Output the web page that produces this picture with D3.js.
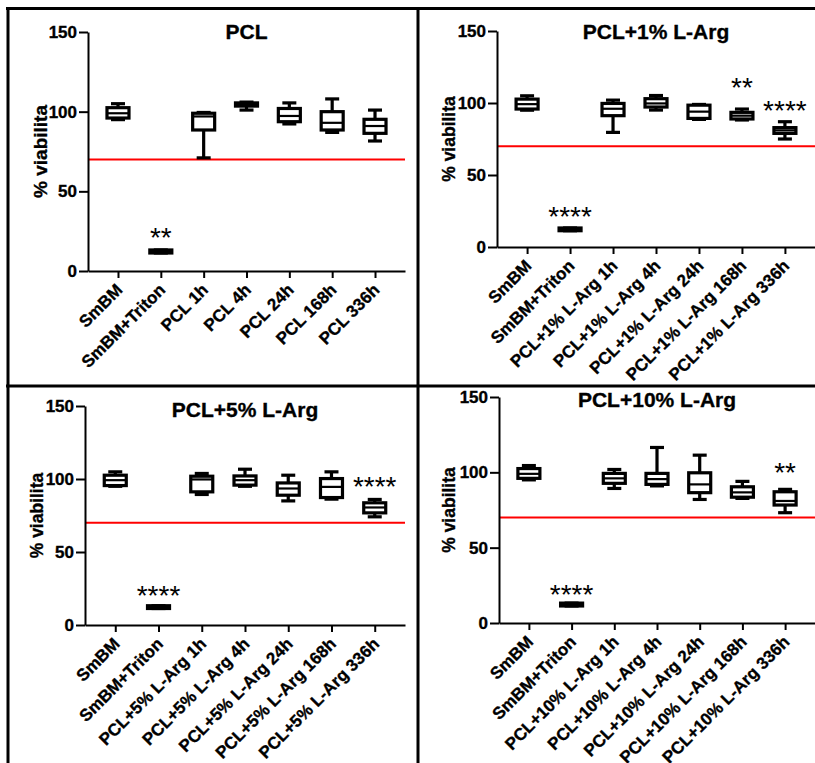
<!doctype html>
<html>
<head>
  <meta charset="utf8"/>
  <style>
    body { margin: 0; background: #fff; }
    text { font-family: Arial, 'Liberation Sans', Helvetica, sans-serif; }
    .bold { font-weight: bold; stroke: #000; stroke-width: 0.35px; }
  </style>
</head>
<body>
  <svg width="815" height="763"></svg>
  <script src="https://d3js.org/d3.v7.min.js"></script>
  <script>

    // ---- data (box stats: [min, q1, median, q3, max]) ----
    var titles = ['PCL', 'PCL+1% L-Arg', 'PCL+5% L-Arg', 'PCL+10% L-Arg'];
    var yTicks = [0, 50, 100, 150];
    var threshold = 70;

    var catsPCL = ['SmBM', 'SmBM+Triton', 'PCL 1h', 'PCL 4h', 'PCL 24h', 'PCL 168h', 'PCL 336h'];
    var cats1 = ['SmBM', 'SmBM+Triton', 'PCL+1% L-Arg 1h', 'PCL+1% L-Arg 4h', 'PCL+1% L-Arg 24h',
                 'PCL+1% L-Arg 168h', 'PCL+1% L-Arg 336h'];
    var cats5 = ['SmBM', 'SmBM+Triton', 'PCL+5% L-Arg 1h', 'PCL+5% L-Arg 4h', 'PCL+5% L-Arg 24h',
                 'PCL+5% L-Arg 168h', 'PCL+5% L-Arg 336h'];
    var cats10 = ['SmBM', 'SmBM+Triton', 'PCL+10% L-Arg 1h', 'PCL+10% L-Arg 4h', 'PCL+10% L-Arg 24h',
                  'PCL+10% L-Arg 168h', 'PCL+10% L-Arg 336h'];

    var boxPCL = [
      [95, 96, 99, 102.5, 105],
      [11.3, 11.3, 12.2, 13.2, 13.2],
      [71, 88.5, 97, 99, 99.5],
      [101, 103.5, 104.5, 105.5, 106],
      [92.3, 93.7, 97.3, 102, 105.5],
      [87, 88.5, 93, 100, 108],
      [81.6, 86.4, 91, 95.2, 101]
    ];
    var box1 = [
      [95, 95.8, 99.2, 102.7, 105],
      [11.3, 11.3, 12.2, 13.2, 13.2],
      [79.6, 91.2, 96, 99.7, 102],
      [95.1, 97.2, 99.7, 103, 105.2],
      [88.6, 89.3, 94, 98.5, 99],
      [88.2, 88.9, 91.2, 93.5, 95.8],
      [75, 78.9, 81, 82.9, 87]
    ];
    var box5 = [
      [95, 95.5, 99.2, 102.6, 104.9],
      [11.3, 11.3, 12.2, 13.2, 13.2],
      [89.4, 91.2, 99.7, 101.9, 103.8],
      [95, 95.8, 99.2, 102.1, 106.7],
      [85, 88.9, 93.5, 97.3, 102.6],
      [86.2, 87.3, 94.6, 100.3, 104.9],
      [74.1, 76.8, 80.5, 83.7, 86]
    ];
    var box10 = [
      [95, 96, 99, 102.5, 104.5],
      [11.3, 11.3, 12.2, 13.2, 13.2],
      [89.3, 92.7, 96, 99.3, 101.9],
      [91, 92, 95.5, 99.3, 116.5],
      [82, 86.5, 92, 99.7, 111.4],
      [82.7, 83.5, 86.7, 90.4, 94],
      [73.2, 78.3, 81, 87.1, 88.7]
    ];

    // significance marks: [category index, label, value at glyph centre]
    var sigPCL = [[1, '**', 25]];
    var sig1 = [[1, '****', 25.5], [5, '**', 115.5], [6, '****', 99]];
    var sig5 = [[1, '****', 25], [6, '****', 99.3]];
    var sig10 = [[1, '****', 23], [6, '**', 104]];

    // ---- layout ----
    var layout = [
      {x0: 88, x1: 405, yTop: 32, yBot: 271, titleY: 38.5, labX: 47, labSize: 19},
      {x0: 497, x1: 815, yTop: 31, yBot: 247, titleY: 39, labX: 455, labSize: 17.5},
      {x0: 85, x1: 405, yTop: 406, yBot: 625, titleY: 417, labX: 43, labSize: 17.5},
      {x0: 499, x1: 815, yTop: 397, yBot: 623, titleY: 407, labX: 455, labSize: 17.5}
    ];
    var panels = [
      {cats: catsPCL, boxes: boxPCL, sig: sigPCL},
      {cats: cats1, boxes: box1, sig: sig1},
      {cats: cats5, boxes: box5, sig: sig5},
      {cats: cats10, boxes: box10, sig: sig10}
    ];

    var svg = d3.select('svg');
    svg.append('rect').attr('width', 815).attr('height', 763).attr('fill', '#fff');

    panels.forEach(function(p, i) {
      var L = layout[i];
      var g = svg.append('g');

      var x = d3.scalePoint().domain(p.cats).range([L.x0, L.x1]).padding(0.7);
      var y = d3.scaleLinear().domain([0, 150]).range([L.yBot, L.yTop]);

      // threshold line
      g.append('line')
        .attr('x1', L.x0).attr('x2', L.x1)
        .attr('y1', y(threshold)).attr('y2', y(threshold))
        .attr('stroke', '#ff0000').attr('stroke-width', 2);

      // y axis
      var ya = g.append('g')
        .attr('transform', 'translate(' + L.x0 + ',0)')
        .call(d3.axisLeft(y).tickValues(yTicks).tickSize(9).tickSizeOuter(0).tickPadding(2));
      ya.selectAll('path, line').attr('stroke', '#000').attr('stroke-width', 2);
      ya.selectAll('text').attr('fill', '#000').attr('class', 'bold')
        .style('font-size', '17px')
        .style('font-family', "Arial, 'Liberation Sans', sans-serif");

      // x axis
      var xa = g.append('g')
        .attr('transform', 'translate(0,' + L.yBot + ')')
        .call(d3.axisBottom(x).tickSize(7).tickSizeOuter(0));
      xa.selectAll('path, line').attr('stroke', '#000').attr('stroke-width', 2);
      xa.selectAll('text')
        .attr('fill', '#000').attr('class', 'bold')
        .attr('y', 0).attr('dy', 0)
        .attr('text-anchor', 'end')
        .attr('transform', 'translate(5,20) rotate(-45)')
        .style('font-size', '17px')
        .style('font-family', "Arial, 'Liberation Sans', sans-serif");

      // boxes
      var bw = 22, cw = 14, sw = 3.2;
      var b = g.selectAll('.box').data(p.boxes).enter().append('g').attr('class', 'box')
        .attr('transform', function(d, j) { return 'translate(' + x(p.cats[j]) + ',0)'; });

      b.append('line')
        .attr('y1', function(d) { return y(d[4]); })
        .attr('y2', function(d) { return y(d[3]); })
        .attr('stroke', '#000').attr('stroke-width', sw);
      b.append('line')
        .attr('y1', function(d) { return y(d[1]); })
        .attr('y2', function(d) { return y(d[0]); })
        .attr('stroke', '#000').attr('stroke-width', sw);
      b.append('line')
        .attr('x1', -cw / 2).attr('x2', cw / 2)
        .attr('y1', function(d) { return y(d[4]); })
        .attr('y2', function(d) { return y(d[4]); })
        .attr('stroke', '#000').attr('stroke-width', sw);
      b.append('line')
        .attr('x1', -cw / 2).attr('x2', cw / 2)
        .attr('y1', function(d) { return y(d[0]); })
        .attr('y2', function(d) { return y(d[0]); })
        .attr('stroke', '#000').attr('stroke-width', sw);
      b.append('rect')
        .attr('x', -bw / 2).attr('width', bw)
        .attr('y', function(d) { return y(d[3]); })
        .attr('height', function(d) { return y(d[1]) - y(d[3]); })
        .attr('fill', '#fff').attr('stroke', '#000').attr('stroke-width', sw);
      b.append('line')
        .attr('x1', -bw / 2).attr('x2', bw / 2)
        .attr('y1', function(d) { return y(d[2]); })
        .attr('y2', function(d) { return y(d[2]); })
        .attr('stroke', '#000').attr('stroke-width', 2.2);

      // significance stars
      g.selectAll('.sig').data(p.sig).enter().append('text')
        .attr('x', function(d) { return x(p.cats[d[0]]); })
        .attr('y', function(d) { return y(d[2]) + 16; })
        .attr('text-anchor', 'middle')
        .style('font-size', '28px')
        .text(function(d) { return d[1]; });

      // title
      g.append('text').attr('class', 'bold')
        .attr('x', (L.x0 + L.x1) / 2).attr('y', L.titleY)
        .attr('text-anchor', 'middle')
        .style('font-size', '21px')
        .text(titles[i]);

      // y label
      g.append('text').attr('class', 'bold')
        .attr('transform', 'translate(' + L.labX + ',' + ((L.yTop + L.yBot) / 2) + ') rotate(-90)')
        .attr('text-anchor', 'middle')
        .style('font-size', L.labSize + 'px')
        .text('% viabilita');
    });

    // frame lines
    var frame = [[6, 8.5, 815, 8.5], [8, 7, 8, 763], [418, 7, 418, 763], [6, 386, 815, 386]];
    svg.selectAll('.frame').data(frame).enter().append('line')
      .attr('x1', function(d) { return d[0]; }).attr('y1', function(d) { return d[1]; })
      .attr('x2', function(d) { return d[2]; }).attr('y2', function(d) { return d[3]; })
      .attr('stroke', '#000').attr('stroke-width', 3);

  </script>
</body>
</html>
